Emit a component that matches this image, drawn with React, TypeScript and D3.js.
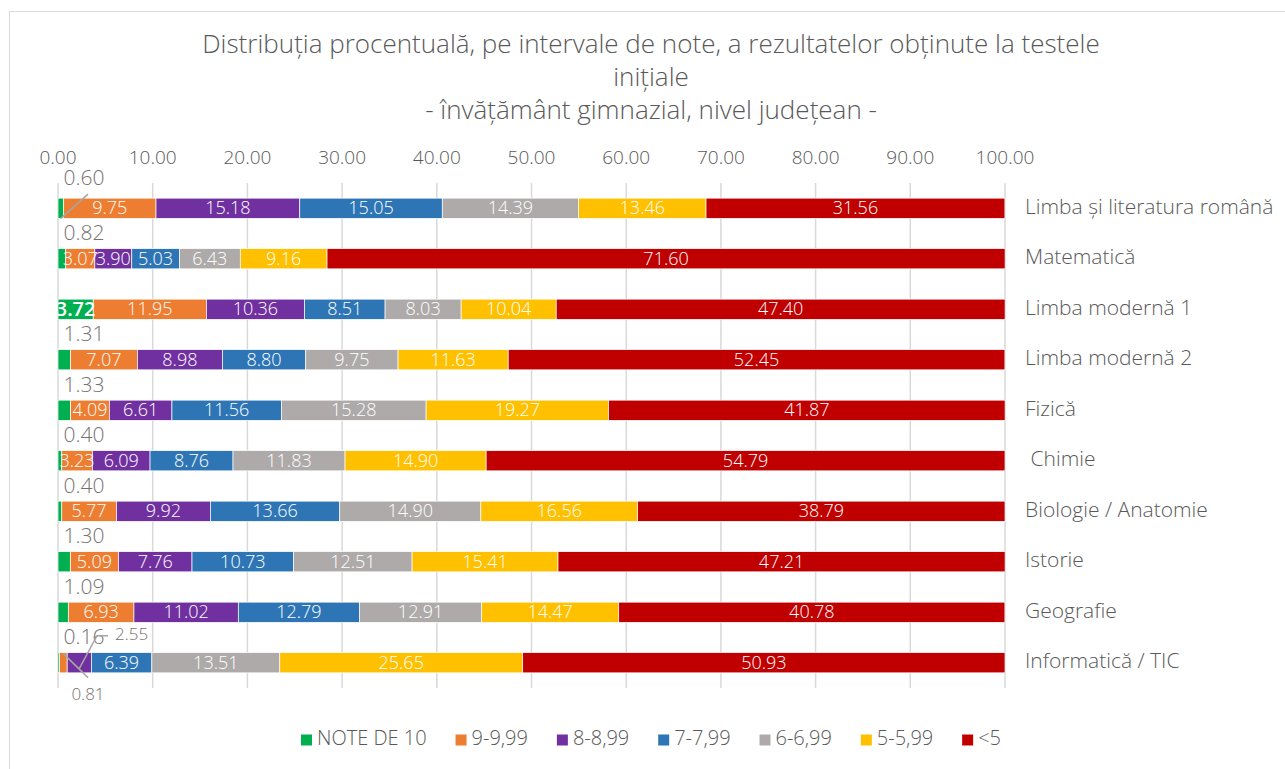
import React, { useEffect, useRef } from 'react';
import * as d3 from 'd3';

const categories = [
  "Limba și literatura română",
  "Matematică",
  "Limba modernă 1",
  "Limba modernă 2",
  "Fizică",
  " Chimie",
  "Biologie / Anatomie",
  "Istorie",
  "Geografie",
  "Informatică / TIC",
];

const seriesNames = ["NOTE DE 10", "9-9,99", "8-8,99", "7-7,99", "6-6,99", "5-5,99", "<5"];
const seriesColors = ["#00B050", "#ED7D31", "#7030A0", "#2E75B6", "#AEAAAA", "#FFC000", "#C00000"];

const note10 = [0.60, 0.82, 3.72, 1.31, 1.33, 0.40, 0.40, 1.30, 1.09, 0.16];
const note9 = [9.75, 3.07, 11.95, 7.07, 4.09, 3.23, 5.77, 5.09, 6.93, 0.81];
const note8 = [15.18, 3.90, 10.36, 8.98, 6.61, 6.09, 9.92, 7.76, 11.02, 2.55];
const note7 = [15.05, 5.03, 8.51, 8.80, 11.56, 8.76, 13.66, 10.73, 12.79, 6.39];
const note6 = [14.39, 6.43, 8.03, 9.75, 15.28, 11.83, 14.90, 12.51, 12.91, 13.51];
const note5 = [13.46, 9.16, 10.04, 11.63, 19.27, 14.90, 16.56, 15.41, 14.47, 25.65];
const noteUnder5 = [31.56, 71.60, 47.40, 52.45, 41.87, 54.79, 38.79, 47.21, 40.78, 50.93];

const xTicks = [0, 10, 20, 30, 40, 50, 60, 70, 80, 90, 100];

const titleLines = [
  "Distribuția procentuală, pe intervale de note, a rezultatelor obținute la testele",
  "inițiale",
  "- învățământ gimnazial, nivel județean -",
];

const FONT = "'Open Sans', 'Noto Sans', sans-serif";
const TEXT = "#595959";

export default function App() {
  const ref = useRef<SVGSVGElement>(null);

  useEffect(() => {
    const svg = d3.select(ref.current);
    svg.selectAll("*").remove();
    const width = 1285;
    const height = 769;

    svg.append("rect").attr("width", width).attr("height", height).attr("fill", "#fff");
    // chart border (only top and left visible)
    svg.append("rect")
      .attr("x", 9.5).attr("y", 11.5)
      .attr("width", width + 20).attr("height", height + 20)
      .attr("fill", "none").attr("stroke", "#d9d9d9");

    // title
    const titleY = [46, 79, 112];
    svg.selectAll("text.title")
      .data(titleLines).enter().append("text")
      .attr("class", "title")
      .attr("x", 651).attr("y", (d, i) => titleY[i])
      .attr("text-anchor", "middle").attr("dominant-baseline", "middle")
      .attr("font-family", FONT).attr("font-size", 26).attr("font-weight", 300)
      .attr("fill", TEXT)
      .text(d => d);

    const x = d3.scaleLinear().domain([0, 100]).range([58, 1005]);
    const y = d3.scaleBand().domain(categories).range([183, 688]).paddingInner(0.6).paddingOuter(0.3);

    // gridlines
    svg.append("g").selectAll("line")
      .data(xTicks).enter().append("line")
      .attr("x1", d => x(d)).attr("x2", d => x(d))
      .attr("y1", 183).attr("y2", 688)
      .attr("stroke", "#d9d9d9").attr("stroke-width", 1.5);

    // top axis labels
    svg.append("g").selectAll("text")
      .data(xTicks).enter().append("text")
      .attr("x", d => x(d)).attr("y", 159)
      .attr("text-anchor", "middle").attr("dominant-baseline", "middle")
      .attr("font-family", FONT).attr("font-size", 19).attr("font-weight", 300).attr("fill", TEXT)
      .text(d => d.toFixed(2));

    // category labels
    svg.append("g").selectAll("text")
      .data(categories).enter().append("text")
      .attr("x", 1025).attr("y", d => (y(d) as number) + y.bandwidth() / 2)
      .attr("dominant-baseline", "middle")
      .attr("font-family", FONT).attr("font-size", 21).attr("font-weight", 300).attr("fill", TEXT)
      .style("white-space", "pre")
      .text(d => d);

    // stacked data
    const columns = [note10, note9, note8, note7, note6, note5, noteUnder5];
    const table = categories.map((c, i) => {
      const row: any = { cat: c };
      seriesNames.forEach((s, j) => { row[s] = columns[j][i]; });
      return row;
    });
    const stack = d3.stack().keys(seriesNames).order(d3.stackOrderNone).offset(d3.stackOffsetNone);
    const series = stack(table);

    svg.append("clipPath").attr("id", "plotclip")
      .append("rect").attr("x", x(0)).attr("y", 183).attr("width", x(100) - x(0)).attr("height", 510);

    const groups = svg.append("g").selectAll("g")
      .data(series).enter().append("g")
      .attr("fill", (d, i) => seriesColors[i]);

    groups.selectAll("rect")
      .data(d => d).enter().append("rect")
      .attr("x", d => x(d[0]))
      .attr("y", d => y((d.data as any).cat) as number)
      .attr("width", d => x(d[1]) - x(d[0]))
      .attr("height", y.bandwidth())
      .attr("stroke", "#fff").attr("stroke-width", 0.7);

    // labels inside bars
    const labels = svg.append("g").attr("clip-path", "url(#plotclip)");
    series.forEach((s, si) => {
      s.forEach((d, ci) => {
        const v = d[1] - d[0];
        const cy = (y(categories[ci]) as number) + y.bandwidth() / 2;
        const inside = si === 0 ? v > 3 : !(ci === 9 && si < 3);
        if (!inside) return;
        labels.append("text")
          .attr("x", (x(d[0]) + x(d[1])) / 2).attr("y", cy + 1)
          .attr("text-anchor", "middle").attr("dominant-baseline", "middle")
          .attr("font-family", FONT).attr("font-size", si === 0 ? 20 : 18)
          .attr("font-weight", si === 0 ? 600 : 300)
          .attr("fill", "#fff")
          .text(v.toFixed(2));
      });
    });

    // outside callouts for the small green values
    const callouts = svg.append("g").attr("font-family", FONT).attr("fill", "#767171");
    note10.forEach((v, ci) => {
      if (v > 3) return;
      const top = y(categories[ci]) as number;
      const lx = x(0) + 26;
      const ly = ci === 0 ? top - 19 : top - 14;
      callouts.append("text")
        .attr("x", lx).attr("y", ly)
        .attr("text-anchor", "middle").attr("dominant-baseline", "middle")
        .attr("font-size", 21).attr("font-weight", 300).text(v.toFixed(2));
      if (ci === 0) {
        callouts.append("line")
          .attr("x1", x(v / 2)).attr("y1", top + y.bandwidth())
          .attr("x2", lx + 4).attr("y2", top - 4)
          .attr("stroke", "#a6a6a6").attr("stroke-width", 1.5);
      }
    });

    // Informatică / TIC: orange and purple callouts
    const last = series.map(s => s[9]);
    const top9 = y(categories[9]) as number;
    const pur = last[2];
    callouts.append("text")
      .attr("x", x(0) + 57).attr("y", top9 - 17)
      .attr("dominant-baseline", "middle").attr("font-size", 17).attr("font-weight", 300)
      .text((pur[1] - pur[0]).toFixed(2));
    callouts.append("polyline")
      .attr("points", `${x((pur[0] + pur[1]) / 2)},${top9 + 16} ${x(0) + 39},${top9 - 17} ${x(0) + 50},${top9 - 17}`)
      .attr("fill", "none").attr("stroke", "#a6a6a6").attr("stroke-width", 1.5);
    const ora = last[1];
    callouts.append("text")
      .attr("x", x(0) + 30).attr("y", top9 + 43)
      .attr("text-anchor", "middle").attr("dominant-baseline", "middle")
      .attr("font-size", 17).attr("font-weight", 300)
      .text((ora[1] - ora[0]).toFixed(2));
    callouts.append("line")
      .attr("x1", x((ora[0] + ora[1]) / 2)).attr("y1", top9 + 1)
      .attr("x2", x(0) + 30).attr("y2", top9 + 25)
      .attr("stroke", "#a6a6a6").attr("stroke-width", 1.5);

    // legend
    const legend = svg.append("g");
    const items = legend.selectAll("g")
      .data(seriesNames).enter().append("g");
    items.append("rect")
      .attr("width", 11).attr("height", 11).attr("y", -5.5)
      .attr("fill", (d, i) => seriesColors[i]);
    items.append("text")
      .attr("x", 16).attr("dominant-baseline", "middle")
      .attr("font-family", FONT).attr("font-size", 20).attr("font-weight", 300).attr("fill", TEXT)
      .text(d => d);
    const widths: number[] = [];
    items.select("text").each(function () {
      widths.push((this as SVGTextElement).getComputedTextLength() + 16);
    });
    const legendStart = 301;
    const legendEnd = 1001;
    const gap = (legendEnd - legendStart - d3.sum(widths)) / (widths.length - 1);
    let cx = legendStart;
    items.attr("transform", (d, i) => {
      const t = `translate(${cx},740)`;
      cx += widths[i] + gap;
      return t;
    });
  }, []);

  return (
    <svg ref={ref} width={1285} height={769}
      style={{ position: "absolute", left: 0, top: 0, display: "block" }} />
  );
}
